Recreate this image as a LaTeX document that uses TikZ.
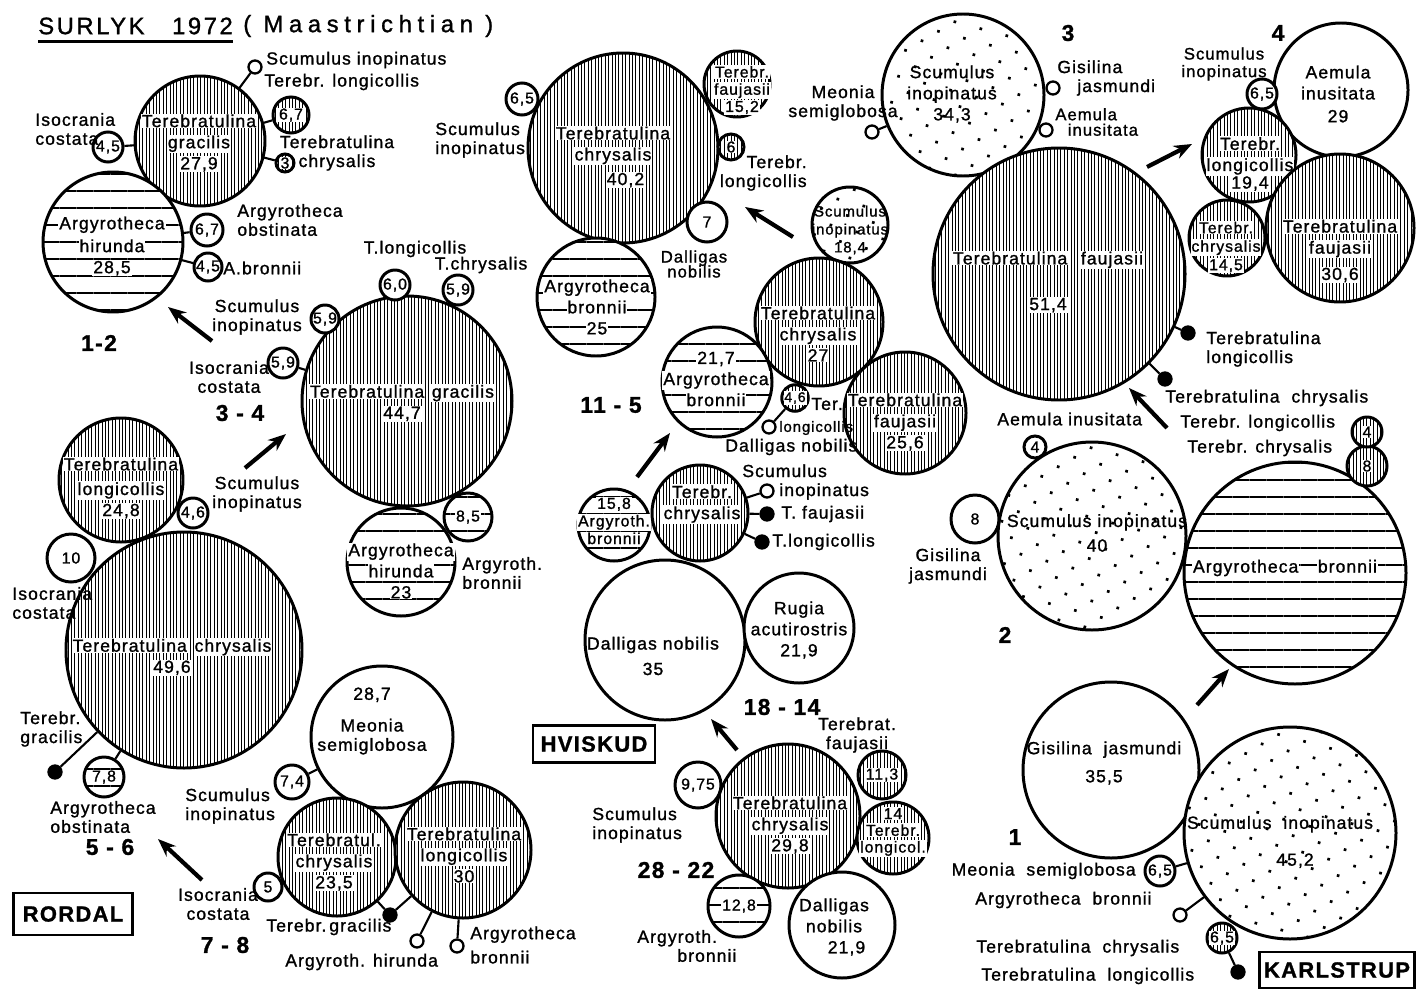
\documentclass[tikz,border=0pt]{standalone}
\usepackage{fontspec}
\setmainfont[LetterSpace=6, FakeBold=1.2]{Liberation Sans}
\usetikzlibrary{patterns.meta,arrows.meta}

\newcommand{\wb}[1]{\colorbox{white}{#1}}
\setlength{\fboxsep}{0.5pt}
\setlength{\lineskiplimit}{-10pt}

\begin{document}
\begin{tikzpicture}[
  x=0.2mm, y=-0.2mm,
  rad/.style={minimum size=#1*0.4mm},
  shell/.style={circle, draw, line width=1.7pt, inner sep=0pt, font=\fontsize{9}{10}\selectfont},
  openshell/.style={shell, fill=white},
  tereshell/.style={shell, preaction={fill=white}, pattern={Lines[angle=90,distance=0.68mm,line width=0.55pt]}},
  argyshell/.style={shell, preaction={fill=white}, pattern={Lines[angle=0,distance=3.4mm,line width=1pt]}},
  scumshell/.style={shell, preaction={fill=white}, pattern={Dots[angle=30,distance=3.8mm,radius=0.38mm]}},
  tinyopen/.style={circle, draw, line width=1.3pt, fill=white, inner sep=0pt, minimum size=2.6mm},
  tinyblack/.style={tinyopen, fill=black},
  intext/.style={align=center, inner sep=0pt, font=\fontsize{10}{12}\selectfont},
  lbl/.style={inner sep=0pt, font=\fontsize{10}{10.8}\selectfont},
  grp/.style={inner sep=0pt, font=\fontsize{13}{15}\selectfont\bfseries},
  site/.style={draw, line width=1.6pt, inner sep=0pt, font=\fontsize{12.5}{14}\selectfont\bfseries},
  link/.style={line width=1.2pt},
  trend/.style={line width=2.4pt, -{Stealth[length=3.6mm,width=2.8mm]}}
]
  \path[use as bounding box, fill=white] (0,0) rectangle (1418,990);

  \node[lbl, anchor=west, font=\fontsize{13.5}{15}\selectfont\addfontfeature{LetterSpace=11}] (surlyk) at (38,26) {SURLYK\ \ \ 1972};
  \draw[line width=1.6pt] ([yshift=-4pt]surlyk.south west) -- ([yshift=-4pt]surlyk.south east);
  \node[lbl, anchor=west, font=\fontsize{13.5}{15}\selectfont\addfontfeature{LetterSpace=24}] (stage) at (243,26) {(\ Maastrichtian\ )};

  \node[tereshell, rad=65] (tgr1) at (200,141) {};
  \node[intext] (tgr1t) at (199,143) {\wb{Terebratulina}\\\wb{gracilis}\\\wb{27,9}};
  \node[argyshell, rad=70] (ahr1) at (113,242) {};
  \node[intext] (ahr1t) at (112,246) {\wb{Argyrotheca}\\[1pt]\wb{hirunda}\\\wb{28,5}};
  \node[tinyopen] (sir1) at (255,67) {};
  \node[tereshell, rad=18] (tlr1) at (291,115) {\wb{6,7}};
  \node[tereshell, rad=9] (tcr1) at (285,163) {\wb{3}};
  \node[openshell, rad=15] (icr1) at (108,147) {4,5};
  \node[openshell, rad=16] (aor1) at (207,230) {6,7};
  \node[openshell, rad=14] (abr1) at (208,267) {4,5};
  \draw[link] (sir1) -- (tgr1);
  \draw[link] (tlr1) -- (tgr1);
  \draw[link] (tcr1) -- (tgr1);
  \draw[link] (icr1) -- (tgr1);
  \draw[link] (aor1) -- (ahr1);
  \draw[link] (abr1) -- (ahr1);
  \node[lbl, anchor=west] (sir1l) at (266,60) {Scumulus inopinatus};
  \node[lbl, anchor=west] (tlr1l) at (264,82) {Terebr. longicollis};
  \node[lbl, align=center] (tcr1l) at (337,153) {Terebratulina\\chrysalis};
  \node[lbl, align=left, anchor=west] (icr1l) at (35,129) {Isocrania\\costata};
  \node[lbl, align=left, anchor=west] (aor1l) at (237,220) {Argyrotheca\\obstinata};
  \node[lbl, anchor=west] (abr1l) at (223,268) {A.bronnii};
  \node[grp] (r1) at (99,343) {1-2};
  \coordinate (r2to1a) at (212,341);
  \coordinate (r2to1b) at (168,307);
  \draw[trend] (r2to1a) -- (r2to1b);

  \node[tereshell, rad=105] (tgr2) at (407,401) {};
  \node[intext] (tgr2t) at (402,403) {\wb{Terebratulina}\ \wb{gracilis}\\\wb{44,7}};
  \node[argyshell, rad=54] (ahr2) at (401,562) {};
  \node[intext] (ahr2t) at (401,571) {\wb{Argyrotheca}\\\wb{hirunda}\\\wb{23}};
  \node[argyshell, rad=24] (abr2) at (468,517) {\wb{8,5}};
  \node[openshell, rad=15] (tlr2) at (395,285) {6,0};
  \node[openshell, rad=15] (tcr2) at (458,290) {5,9};
  \node[openshell, rad=14] (sir2) at (325,319) {5,9};
  \node[openshell, rad=15] (icr2) at (283,363) {5,9};
  \draw[link] (icr2) -- (tgr2);
  \node[lbl] (tlr2l) at (415,249) {T.longicollis};
  \node[lbl] (tcr2l) at (481,265) {T.chrysalis};
  \node[lbl, align=center] (sir2l) at (257,317) {Scumulus\\inopinatus};
  \node[lbl, align=center] (icr2l) at (229,377) {Isocrania\\costata};
  \node[grp] (r2) at (240,413) {3 - 4};
  \coordinate (r3to2a) at (245,468);
  \coordinate (r3to2b) at (286,434);
  \draw[trend] (r3to2a) -- (r3to2b);
  \node[lbl, align=center] (r2l) at (257,494) {Scumulus\\inopinatus};
  \node[lbl, align=left, anchor=west] (abr2l) at (462,573) {Argyroth.\\bronnii};

  \node[tereshell, rad=62] (tlr3) at (121,480) {};
  \node[intext] (tlr3t) at (121,488) {\wb{Terebratulina}\\[2pt]\wb{longicollis}\\\wb{24,8}};
  \node[tereshell, rad=118] (tcr3) at (184,650) {};
  \node[intext] (tcr3t) at (172,657) {\wb{Terebratulina}\ \wb{chrysalis}\\\wb{49,6}};
  \node[openshell, rad=15] (smr3) at (193,513) {4,6};
  \node[openshell, rad=24] (icr3) at (71,558) {10};
  \node[tinyblack] (tgr3) at (55,772) {};
  \node[argyshell, rad=20] (aor3) at (104,777) {\wb{7,8}};
  \draw[link] (tgr3) -- (tcr3);
  \draw[link] (aor3) -- (tcr3);
  \node[lbl, align=left, anchor=west] (icr3l) at (12,603) {Isocrania\\costata};
  \node[lbl, align=left, anchor=west] (tgr3l) at (20,729) {Terebr.\\gracilis};
  \node[lbl, align=left, anchor=west] (aor3l) at (50,817) {Argyrotheca\\obstinata};
  \node[grp] (r3) at (110,847) {5 - 6};
  \coordinate (r4to3a) at (202,880);
  \coordinate (r4to3b) at (158,839);
  \draw[trend] (r4to3a) -- (r4to3b);
  \node[site, minimum width=23.8mm, minimum height=8.4mm] (rordal) at (73,914) {RORDAL};

  \node[openshell, rad=71] (mnr4) at (382,737) {};
  \node[intext] (mnr4t) at (372,721) {28,7\\[6pt]Meonia\\[-1pt]semiglobosa};
  \node[tereshell, rad=59] (tcr4) at (337,857) {};
  \node[intext] (tcr4t) at (334,862) {\wb{Terebratul.}\\\wb{chrysalis}\\\wb{23,5}};
  \node[tereshell, rad=68] (tlr4) at (463,850) {};
  \node[intext] (tlr4t) at (464,855) {\wb{Terebratulina}\\\wb{longicollis}\\\wb{30}};
  \node[openshell, rad=17] (sir4) at (292,782) {7,4};
  \node[openshell, rad=14] (icr4) at (268,887) {5};
  \node[tinyblack] (tgr4) at (390,915) {};
  \node[tinyopen] (ahr4) at (417,941) {};
  \node[tinyopen] (abr4) at (457,946) {};
  \draw[link] (sir4) -- (mnr4);
  \draw[link] (tgr4) -- (tcr4);
  \draw[link] (tgr4) -- (tlr4);
  \draw[link] (ahr4) -- (tlr4);
  \draw[link] (abr4) -- (tlr4);
  \node[lbl, align=left, anchor=west] (sir4l) at (185,806) {Scumulus\\inopinatus};
  \node[lbl, align=center] (icr4l) at (218,904) {Isocrania\\costata};
  \node[lbl, anchor=west] (tgr4l) at (266,927) {Terebr.\,gracilis};
  \node[lbl, anchor=west] (ahr4l) at (285,962) {Argyroth. hirunda};
  \node[lbl, align=left, anchor=west] (abr4l) at (470,945) {Argyrotheca\\[3pt]bronnii};
  \node[grp] (r4) at (225,945) {7 - 8};

  \node[site, minimum width=24.4mm, minimum height=7.4mm] (hviskud) at (594,744) {HVISKUD};

  \node[tereshell, rad=95] (tch0) at (623,148) {};
  \node[intext] (tch0t) at (613,157) {\wb{Terebratulina}\\\wb{chrysalis}\\[2pt]\hspace*{5mm}\wb{40,2}};
  \node[argyshell, rad=59] (abh0) at (596,297) {};
  \node[intext] (abh0t) at (597,307) {\wb{Argyrotheca}\\\wb{bronnii}\\\wb{25}};
  \node[tereshell, rad=33] (tfh0) at (737,84) {};
  \node[intext, font=\fontsize{9}{9.8}\selectfont] (tfh0t) at (742,90) {\wb{Terebr.}\\\wb{faujasii}\\\wb{15,2}};
  \node[tereshell, rad=13] (tlh0) at (731,147) {\wb{6}};
  \node[openshell, rad=16] (sih0) at (522,99) {6,5};
  \node[openshell, rad=20] (dnh0) at (707,222) {7};
  \node[lbl, align=left, anchor=west] (sih0l) at (435,140) {Scumulus\\inopinatus};
  \node[lbl, align=right, anchor=east] (tlh0l) at (807,173) {Terebr.\\longicollis};
  \node[lbl, align=center, font=\fontsize{9.5}{8.5}\selectfont] (dnh0l) at (694,264) {Dalligas\\nobilis};
  \coordinate (h1to0a) at (793,237);
  \coordinate (h1to0b) at (745,207);
  \draw[trend] (h1to0a) -- (h1to0b);

  \node[scumshell, rad=38] (sch1) at (850,225) {};
  \node[intext, font=\fontsize{8.5}{10.2}\selectfont] (sch1t) at (850,230) {Scumulus\\inopinatus\\18,4};
  \node[tereshell, rad=64] (tch1) at (819,322) {};
  \node[intext] (tch1t) at (818,334) {\wb{Terebratulina}\\\wb{chrysalis}\\\wb{27}};
  \node[argyshell, rad=55] (abh1) at (717,382) {};
  \node[intext] (abh1t) at (716,379) {\wb{21,7}\\\wb{Argyrotheca}\\\wb{bronnii}};
  \node[tereshell, rad=61] (tfh1) at (905,413) {};
  \node[intext] (tfh1t) at (905,422) {\wb{Terebratulina}\\\wb{faujasii}\\\wb{25,6}};
  \node[tereshell, rad=13, font=\fontsize{8}{9}\selectfont] (tlh1) at (795,398) {\wb{4,6}};
  \node[tinyopen] (dnh1) at (769,427) {};
  \draw[link] (dnh1) -- (tlh1);
  \node[lbl, anchor=west] (tlh1l) at (811,404) {Ter.};
  \node[lbl, anchor=west, font=\fontsize{8.5}{10}\selectfont] (tlh1m) at (779,428) {longicollis};
  \node[lbl, anchor=west] (dnh1l) at (725,447) {Dalligas nobilis};
  \node[grp] (h1) at (611,405) {11 - 5};
  \coordinate (h2to1a) at (637,477);
  \coordinate (h2to1b) at (670,433);
  \draw[trend] (h2to1a) -- (h2to1b);

  \node[argyshell, rad=36] (abh2) at (614,525) {};
  \node[intext, font=\fontsize{9}{10}\selectfont] (abh2t) at (614,521) {\wb{15,8}\\\wb{Argyroth.}\\\wb{bronnii}};
  \node[tereshell, rad=48] (tch2) at (700,513) {};
  \node[intext] (tch2t) at (702,504) {\wb{Terebr.}\\\wb{chrysalis}};
  \node[tinyopen] (sih2) at (767,491) {};
  \node[tinyblack] (tfh2) at (767,514) {};
  \node[tinyblack] (tlh2) at (762,542) {};
  \draw[link] (sih2) -- (tch2);
  \draw[link] (tfh2) -- (tch2);
  \draw[link] (tlh2) -- (tch2);
  \node[lbl, align=left, anchor=west] (sih2l) at (742,482) {Scumulus\\\hspace*{7.4mm}inopinatus};
  \node[lbl, anchor=west] (tfh2l) at (781,514) {T. faujasii};
  \node[lbl, anchor=west] (tlh2l) at (772,542) {T.longicollis};
  \node[openshell, rad=80] (dnh2) at (665,640) {};
  \node[intext] (dnh2t) at (653,656) {Dalligas nobilis\\[2.5pt]35};
  \node[openshell, rad=55] (rah2) at (799,628) {};
  \node[intext] (rah2t) at (799,630) {Rugia\\acutirostris\\21,9};
  \node[grp] (h2) at (782,707) {18 - 14};

  \coordinate (h3to2a) at (737,750);
  \coordinate (h3to2b) at (711,719);
  \draw[trend] (h3to2a) -- (h3to2b);
  \node[tereshell, rad=72] (tch3) at (788,816) {};
  \node[intext] (tch3t) at (790,825) {\wb{Terebratulina}\\\wb{chrysalis}\\\wb{29,8}};
  \node[openshell, rad=23] (sih3) at (698,785) {9,75};
  \node[argyshell, rad=31] (abh3) at (739,906) {\wb{12,8}};
  \node[openshell, rad=53] (dnh3) at (842,925) {};
  \node[intext] (dnh3t) at (834,927) {Dalligas\\nobilis\\\hspace*{5mm}21,9};
  \node[tereshell, rad=24] (tfh3) at (882,775) {\wb{11,3}};
  \node[tereshell, rad=36] (tlh3) at (893,838) {};
  \node[intext, font=\fontsize{9}{9.5}\selectfont] (tlh3t) at (893,832) {\wb{14}\\\wb{Terebr.}\\\wb{longicol.}};
  \node[lbl, align=left, anchor=west] (sih3l) at (592,825) {Scumulus\\inopinatus};
  \node[grp] (h3) at (676,870) {28 - 22};
  \node[lbl, align=left, anchor=west] (abh3l) at (637,946) {Argyroth.\\\hspace*{8mm}bronnii};
  \node[lbl, align=center] (tfh3l) at (857,735) {Terebrat.\\faujasii};

  \node[grp] (k3) at (1068,33) {3};
  \node[scumshell, rad=81] (sck3) at (963,95) {};
  \node[intext] (sck3t) at (952,94) {Scumulus\\inopinatus\\34,3};
  \node[tereshell, rad=126] (tfk3) at (1059,274) {};
  \node[intext] (tfk3t) at (1048,282) {\wb{Terebratulina}\ \ \wb{faujasii}\\[14pt]\wb{51,4}};
  \node[tinyopen] (mnk3) at (872,132) {};
  \node[tinyopen] (gjk3) at (1053,88) {};
  \node[tinyopen] (aik3) at (1046,130) {};
  \draw[link] (mnk3) -- (sck3);
  \node[lbl, align=center] (mnk3l) at (843,103) {Meonia\\semiglobosa};
  \node[lbl, align=left, anchor=west] (gjk3l) at (1057,78) {Gisilina\\\hspace*{4mm}jasmundi};
  \node[lbl, align=left, anchor=west, font=\fontsize{9.5}{8.8}\selectfont] (aik3l) at (1055,122) {Aemula\\\hspace*{2.5mm}inusitata};
  \node[tinyblack] (tlk3) at (1188,333) {};
  \node[tinyblack] (tck3) at (1165,379) {};
  \draw[link] (tlk3) -- (tfk3);
  \draw[link] (tck3) -- (tfk3);
  \node[lbl, align=left, anchor=west] (tlk3l) at (1206,349) {Terebratulina\\longicollis};
  \node[lbl, anchor=west] (tck3l) at (1165,398) {Terebratulina\ \ chrysalis};
  \node[lbl, anchor=west] (tlk2l) at (1180,423) {Terebr. longicollis};
  \node[lbl, anchor=west] (tck2l) at (1187,448) {Terebr. chrysalis};
  \coordinate (k2to3a) at (1167,428);
  \coordinate (k2to3b) at (1129,388);
  \draw[trend] (k2to3a) -- (k2to3b);

  \node[grp] (k4) at (1278,33) {4};
  \node[openshell, rad=67] (aik4) at (1341,90) {};
  \node[intext] (aik4t) at (1338,94) {Aemula\\inusitata\\[1pt]29};
  \node[openshell, rad=15] (sik4) at (1262,94) {6,5};
  \node[tereshell, rad=47] (tlk4) at (1249,155) {};
  \node[intext] (tlk4t) at (1250,164) {\wb{Terebr.}\\\wb{longicollis}\\[-2pt]\wb{19,4}};
  \node[tereshell, rad=38] (tck4) at (1227,238) {};
  \node[intext, font=\fontsize{9}{10.5}\selectfont] (tck4t) at (1226,247) {\wb{Terebr.}\\\wb{chrysalis}\\\wb{14,5}};
  \node[tereshell, rad=74] (tfk4) at (1340,228) {};
  \node[intext] (tfk4t) at (1340,251) {\wb{Terebratulina}\\\wb{faujasii}\\[3pt]\wb{30,6}};
  \node[lbl, align=center, font=\fontsize{9.5}{10}\selectfont] (sik4l) at (1224,64) {Scumulus\\inopinatus};
  \coordinate (k3to4a) at (1147,167);
  \coordinate (k3to4b) at (1192,144);
  \draw[trend] (k3to4a) -- (k3to4b);

  \node[lbl, anchor=west] (aik2l) at (997,419) {Aemula inusitata};
  \node[openshell, rad=11] (aik2) at (1035,447) {4};
  \node[scumshell, rad=94] (sck2) at (1092,536) {};
  \node[intext] (sck2t) at (1097,533) {Scumulus inopinatus\\[2pt]40};
  \node[openshell, rad=24] (gjk2) at (975,519) {8};
  \node[lbl, align=center] (gjk2l) at (948,566) {Gisilina\\jasmundi};
  \node[grp] (k2) at (1005,635) {2};
  \node[argyshell, rad=111] (abk2) at (1295,573) {};
  \node[intext] (abk2t) at (1285,568) {\wb{Argyrotheca}\ \ \ \wb{bronnii}};
  \node[tereshell, rad=20] (tck2) at (1367,466) {\wb{8}};
  \node[tereshell, rad=15] (tlk2) at (1367,432) {\wb{4}};
  \coordinate (k1to2a) at (1197,705);
  \coordinate (k1to2b) at (1229,669);
  \draw[trend] (k1to2a) -- (k1to2b);

  \node[openshell, rad=88] (gjk1) at (1111,770) {};
  \node[intext] (gjk1t) at (1104,763) {Gisilina\ \ jasmundi\\[4pt]35,5};
  \node[scumshell, rad=106] (sck1) at (1290,833) {};
  \node[intext] (sck1t) at (1280,842) {Scumulus\ \ inopinatus\\[9pt]\hspace*{6mm}45,2};
  \node[grp] (k1) at (1015,837) {1};
  \node[openshell, rad=15] (mnk1) at (1160,871) {6,5};
  \node[tinyopen] (abk1) at (1180,915) {};
  \node[tereshell, rad=15] (tck1) at (1222,938) {\wb{6,5}};
  \node[tinyblack] (tlk1) at (1238,972) {};
  \draw[link] (mnk1) -- (sck1);
  \draw[link] (abk1) -- (sck1);
  \draw[link] (tlk1) -- (tck1);
  \node[lbl, anchor=east] (mnk1l) at (1136,871) {Meonia\ \ semiglobosa};
  \node[lbl, anchor=west] (abk1l) at (975,900) {Argyrotheca\ \ bronnii};
  \node[lbl, anchor=west] (tck1l) at (976,948) {Terebratulina\ \ chrysalis};
  \node[lbl, anchor=west] (tlk1l) at (981,976) {Terebratulina\ \ longicollis};
  \node[site, minimum width=31mm, minimum height=7.2mm] (karlstrup) at (1337,970) {KARLSTRUP};
\end{tikzpicture}
\end{document}
